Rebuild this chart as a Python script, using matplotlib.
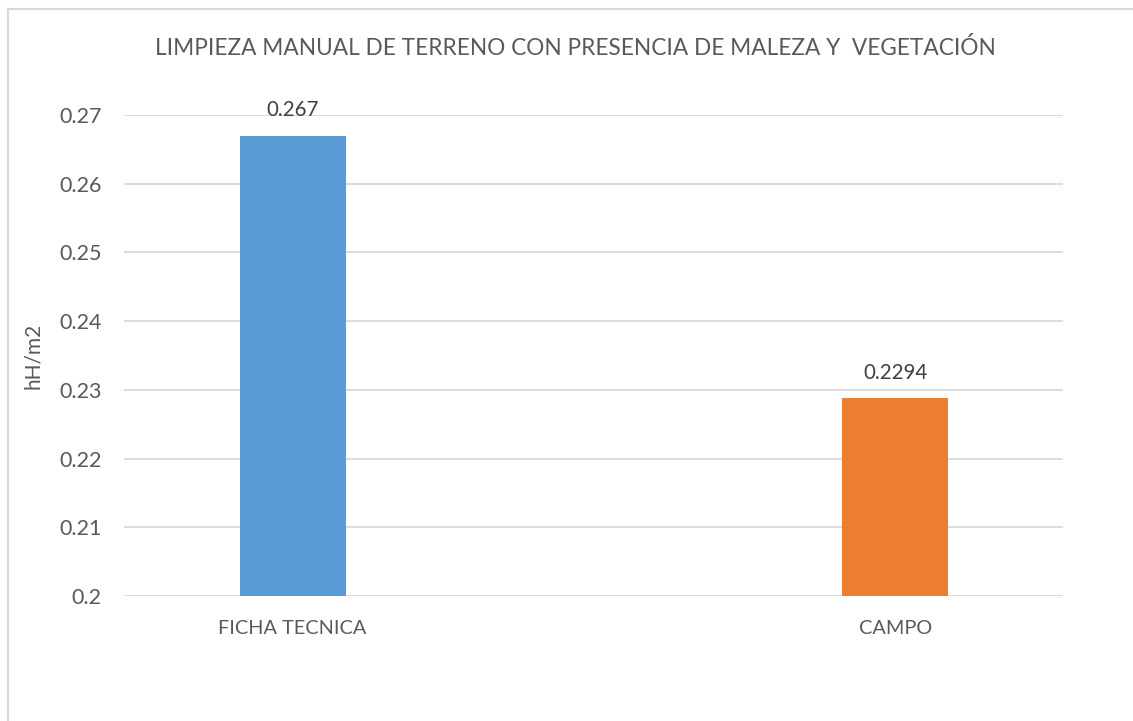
import matplotlib.pyplot as plt
from matplotlib.lines import Line2D

plt.rcParams['font.family'] = ['Lato', 'DejaVu Sans']

categories = ['FICHA TECNICA', 'CAMPO']
values = [0.267, 0.2288]
value_labels = ['0.267', '0.2294']
colors = ['#5B9BD5', '#ED7D31']
yticks = [0.2, 0.21, 0.22, 0.23, 0.24, 0.25, 0.26, 0.27]

title = 'LIMPIEZA MANUAL DE TERRENO CON PRESENCIA DE MALEZA Y  VEGETACIÓN'
text_color = '#595959'
grid_color = '#D9D9D9'

fig = plt.figure(figsize=(11.33, 7.21), dpi=100)
ax = fig.add_axes([0.1094, 0.1734, 0.9382 - 0.1094, 0.8405 - 0.1734])

# outer chart border (only top and left visible in the reference)
fig.add_artist(Line2D([0.0075, 1.0], [0.9875, 0.9875], transform=fig.transFigure,
                      color=grid_color, lw=1.5))
fig.add_artist(Line2D([0.0075, 0.0075], [0.0, 0.9875], transform=fig.transFigure,
                      color=grid_color, lw=1.5))

x = [0, 1]
bars = ax.bar(x, [v - yticks[0] for v in values], bottom=yticks[0], width=0.176,
              color=colors, zorder=3)

for xi, v, lab in zip(x, values, value_labels):
    ax.text(xi, v + 0.0022, lab, ha='center', va='bottom', fontsize=14.8,
            color='#404040')

ax.set_xlim(-0.28, 1.2786)
ax.set_ylim(0.2, 0.27)
ax.set_yticks(yticks)
ax.set_yticklabels([f'{t:g}' for t in yticks])
ax.set_xticks(x)
ax.set_xticklabels(categories)

ax.grid(axis='y', color=grid_color, lw=1.3, zorder=0)
for s in ax.spines.values():
    s.set_visible(False)
ax.tick_params(axis='both', length=0, colors=text_color)
ax.tick_params(axis='x', pad=17, labelsize=14.3)
ax.tick_params(axis='y', pad=16, labelsize=15.5)

ax.set_ylabel('hH/m2', fontsize=15, color=text_color)
ax.yaxis.set_label_coords(-0.086, 0.5)

fig.text(0.5075, 0.934, title, ha='center', va='center', fontsize=16.3,
         color=text_color)

fig.savefig('out.png', dpi=100)
